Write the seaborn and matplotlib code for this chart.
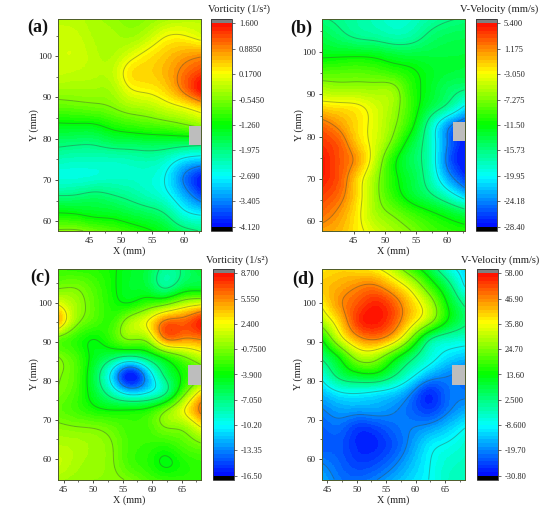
import numpy as np
import pandas as pd
import matplotlib
matplotlib.use("Agg")
import matplotlib.pyplot as plt
from matplotlib.colors import BoundaryNorm
from matplotlib.patches import Rectangle
from matplotlib.ticker import FixedLocator
import seaborn as sns

# Field samples, rows run from the top of each panel to the bottom.
vort_a = [
    [-0.15, -0.20, -0.30, -0.40, -0.50, -0.45, -0.30, -0.20, -0.15],
    [-0.10, -0.10, -0.25, -0.30, -0.35, -0.15, 0.17, 0.22, 0.05],
    [-0.05, -0.05, -0.20, -0.25, 0.00, 0.28, 0.50, 0.70, 0.80],
    [-0.10, -0.15, -0.20, -0.15, 0.33, 0.45, 0.62, 0.98, 1.30],
    [-0.35, -0.35, -0.35, -0.30, 0.12, 0.25, 0.45, 0.95, 1.58],
    [-0.75, -0.70, -0.65, -0.55, -0.35, -0.25, -0.05, 0.15, 0.45],
    [-1.33, -1.32, -1.30, -1.10, -0.95, -0.85, -0.75, -0.60, -0.40],
    [-1.85, -1.90, -1.90, -1.75, -1.70, -1.65, -1.65, -1.70, -1.75],
    [-2.30, -2.35, -2.35, -2.35, -2.30, -2.25, -2.40, -2.80, -3.00],
    [-2.50, -2.50, -2.45, -2.40, -2.40, -2.45, -2.70, -3.40, -4.00],
    [-1.98, -1.95, -1.85, -1.95, -2.10, -2.30, -2.55, -3.10, -3.70],
    [-1.25, -1.30, -1.40, -1.45, -1.60, -1.75, -2.00, -2.55, -2.80],
    [-0.50, -0.50, -0.65, -0.80, -1.00, -1.20, -1.45, -1.80, -2.00],
]
vvel_b = [
    [-15.5, -16.2, -17.0, -17.8, -18.5, -18.2, -17.0, -16.0, -15.5],
    [-13.8, -15.0, -16.0, -16.5, -17.2, -16.8, -15.2, -14.3, -14.0],
    [-12.0, -12.0, -12.0, -12.3, -13.2, -13.5, -13.5, -13.4, -13.3],
    [-8.9, -8.7, -8.6, -9.0, -9.8, -11.0, -12.4, -13.2, -13.5],
    [-5.5, -6.0, -6.0, -6.1, -6.5, -10.0, -12.5, -14.5, -15.7],
    [-1.6, -2.0, -2.6, -4.2, -6.2, -9.8, -13.5, -16.5, -20.5],
    [2.2, 0.4, -1.9, -4.0, -6.8, -10.7, -16.8, -23.0, -26.0],
    [4.0, 2.4, -1.2, -4.2, -8.2, -13.0, -17.5, -24.0, -28.0],
    [5.1, 2.9, 0.2, -5.0, -10.7, -14.2, -17.5, -24.5, -28.4],
    [4.8, 2.7, -1.6, -6.3, -10.7, -13.5, -17.0, -22.5, -26.5],
    [3.6, 1.9, -2.0, -6.5, -10.0, -12.7, -15.0, -18.0, -21.5],
    [2.2, 0.5, -2.5, -5.9, -7.7, -9.5, -11.0, -12.5, -14.2],
    [0.3, -0.5, -2.4, -4.3, -5.9, -7.3, -9.0, -10.0, -10.5],
]
vort_c = [
    [-2.6, -2.8, -3.0, -3.6, -4.7, -5.5, -7.6, -6.8, -5.0],
    [-1.0, -0.9, -2.0, -3.5, -4.8, -5.3, -7.3, -5.5, -5.0],
    [2.3, 0.2, -1.6, -3.2, -3.6, -2.2, -1.0, 1.0, 2.2],
    [4.5, -0.2, -2.0, -2.5, 0.3, 2.4, 6.0, 6.5, 8.3],
    [-1.5, -2.8, -3.9, -2.5, -0.7, 0.0, 5.2, 5.3, 5.6],
    [-0.75, -2.2, -4.5, -6.2, -7.5, -6.0, -3.2, -1.0, 1.0],
    [-0.6, -1.9, -5.5, -10.8, -16.0, -12.0, -6.5, -3.5, -1.5],
    [-0.9, -2.2, -5.0, -8.5, -11.5, -10.5, -7.5, -2.0, 3.0],
    [-1.5, -2.3, -3.4, -4.0, -4.0, -3.5, -1.2, 2.0, 6.0],
    [-0.4, -0.7, -0.9, -1.5, -2.4, -2.2, -0.75, -0.2, 2.4],
    [0.6, 0.4, 0.0, -0.7, -2.2, -2.6, -2.8, -1.9, -1.0],
    [1.2, 0.4, -0.1, -0.6, -2.2, -3.0, -4.1, -3.2, -2.6],
    [0.3, -0.1, -0.3, -0.4, -1.0, -2.0, -2.6, -2.8, -2.9],
]
vvel_d = [
    [38, 40, 39, 37, 30, 19, 8.5, -4, -12],
    [41, 44, 47, 48, 42, 33, 20, 7, -8.5],
    [37, 46, 52, 56, 51, 41, 30, 14, 1.5],
    [29, 41, 54, 57, 51, 39, 27, 13, 4],
    [14, 32, 44, 47, 40, 23, 3.5, -3, -5],
    [4, 15, 28, 28, 17, 5, -5, -11, -14],
    [-5.5, 6, 11.5, 12, 4, -6, -15, -19, -21],
    [-14, -8.6, -7.5, -9, -12, -19, -27, -22, -21],
    [-20, -17, -17, -17, -19, -22.5, -26, -21, -16.5],
    [-23, -22, -26, -25, -22, -20, -18, -14, -9],
    [-24, -24, -28, -28, -24, -18, -11, -8, -5],
    [-20, -23, -26, -25, -21, -15, -9, -5, -3.5],
    [-16, -21, -22, -20, -16, -12, -8.5, -4, -3],
]

# Colour bar tick labels, bottom to top.
ticks_a = ["-4.120", "-3.405", "-2.690", "-1.975", "-1.260", "-0.5450", "0.1700", "0.8850", "1.600"]
ticks_b = ["-28.40", "-24.18", "-19.95", "-15.73", "-11.50", "-7.275", "-3.050", "1.175", "5.400"]
ticks_c = ["-16.50", "-13.35", "-10.20", "-7.050", "-3.900", "-0.7500", "2.400", "5.550", "8.700"]
ticks_d = ["-30.80", "-19.70", "-8.600", "2.500", "13.60", "24.70", "35.80", "46.90", "58.00"]

PX_W, PX_H = 546, 511
FILL = 8 * 7

panels = [
    dict(tag="(a)", field=vort_a, ticks=ticks_a, title="Vorticity (1/s²)",
         xlim=(40.0, 62.75), ylim=(57.6, 109.05), xticks=[45, 50, 55, 60], yticks=[60, 70, 80, 90, 100],
         box=(60.9, 78.4, 83.2), main=(58, 19, 201, 231), bar=(211, 232), tag_xy=(27, 27), title_x=239, title_y=9),
    dict(tag="(b)", field=vvel_b, ticks=ticks_b, title="V-Velocity (mm/s)",
         xlim=(40.0, 62.8), ylim=(57.6, 107.9), xticks=[45, 50, 55, 60], yticks=[60, 70, 80, 90, 100],
         box=(60.9, 78.9, 83.5), main=(322.3, 19, 464.7, 231), bar=(476, 497), tag_xy=(290, 28), title_x=499, title_y=9),
    dict(tag="(c)", field=vort_c, ticks=ticks_c, title="Vorticity (1/s²)",
         xlim=(44.03, 68.27), ylim=(54.5, 108.7), xticks=[45, 50, 55, 60, 65], yticks=[60, 70, 80, 90, 100],
         box=(66.0, 78.9, 84.0), main=(58, 269, 201, 480), bar=(213, 234), tag_xy=(30, 277), title_x=237, title_y=260),
    dict(tag="(d)", field=vvel_d, ticks=ticks_d, title="V-Velocity (mm/s)",
         xlim=(44.1, 68.4), ylim=(54.5, 108.7), xticks=[45, 50, 55, 60, 65], yticks=[60, 70, 80, 90, 100],
         box=(66.2, 78.9, 84.0), main=(322, 269, 465, 480), bar=(477, 498), tag_xy=(292, 279), title_x=500, title_y=260),
]


def spline_axis(values, factor, axis):
    """Resample a field along one axis with a natural cubic spline."""
    arr = np.moveaxis(np.asarray(values, float), axis, 0)
    n = arr.shape[0]
    lhs = np.eye(n)
    for k in range(1, n - 1):
        lhs[k, k - 1:k + 2] = [1.0, 4.0, 1.0]
    rhs = np.zeros_like(arr)
    rhs[1:-1] = 6.0 * (arr[:-2] - 2.0 * arr[1:-1] + arr[2:])
    curv = np.linalg.solve(lhs, rhs)
    pos = np.linspace(0, n - 1, (n - 1) * factor + 1)
    i = np.clip(pos.astype(int), 0, n - 2)
    t = (pos - i).reshape((-1,) + (1,) * (arr.ndim - 1))
    out = ((1 - t) * arr[i] + t * arr[i + 1]
           + ((1 - t) ** 3 - (1 - t)) * curv[i] / 6.0
           + (t ** 3 - t) * curv[i + 1] / 6.0)
    return np.moveaxis(out, 0, axis)


def place(px_left, px_top, px_right, px_bottom):
    return [px_left / PX_W, 1 - px_bottom / PX_H, (px_right - px_left) / PX_W, (px_bottom - px_top) / PX_H]


sns.set_theme(style="ticks")
plt.rcParams["font.family"] = ["Liberation Serif", "DejaVu Serif"]
plt.rcParams["axes.unicode_minus"] = False
plt.rcParams["contour.negative_linestyle"] = "solid"

rainbow = sns.blend_palette(["#0000ff", "#00ffff", "#00ff00", "#ffff00", "#ff0000"], n_colors=256, as_cmap=True)
rainbow = rainbow.with_extremes(under="#000000", over="#808080")

fig = plt.figure(figsize=(PX_W / 100, PX_H / 100), dpi=100)

for p in panels:
    left, top, right, bottom = p["main"]
    ax = fig.add_axes(place(left, top, right, bottom))
    cax = fig.add_axes(place(p["bar"][0], top, p["bar"][1], bottom))

    tick_values = np.array([float(t) for t in p["ticks"]])
    levels = np.linspace(tick_values[0], tick_values[-1], FILL + 1)
    norm = BoundaryNorm(levels, ncolors=256, extend="both")

    # Spline overshoot stays inside the top and bottom colour bands.
    fine = spline_axis(spline_axis(p["field"], 24, 0), 24, 1)
    fine = np.clip(fine, levels[1], levels[-2])
    ny, nx = fine.shape
    frame = pd.DataFrame(fine)

    sns.heatmap(frame, ax=ax, cbar_ax=cax, cmap=rainbow, norm=norm, xticklabels=False, yticklabels=False,
                cbar_kws=dict(extendfrac=0.022, extendrect=True, ticks=tick_values))

    # Heatmap cells are indexed, so millimetres are converted to cell positions.
    x0, x1 = p["xlim"]
    y0, y1 = p["ylim"]
    to_col = lambda v: (np.asarray(v, float) - x0) / (x1 - x0) * nx
    to_row = lambda v: (y1 - np.asarray(v, float)) / (y1 - y0) * ny

    ax.contour(np.arange(nx) + 0.5, np.arange(ny) + 0.5, fine, levels=tick_values,
               colors="#3c4a3c", linewidths=0.7, alpha=0.4)

    box_x, box_low, box_high = p["box"]
    ax.add_patch(Rectangle((float(to_col(box_x)), float(to_row(box_high))),
                           float(to_col(x1) - to_col(box_x)), float(to_row(box_low) - to_row(box_high)),
                           facecolor="#bdbdbd", edgecolor="none", zorder=4))

    for side in ("left", "bottom", "right", "top"):
        ax.spines[side].set_visible(True)
        ax.spines[side].set_linewidth(0.7)
        ax.spines[side].set_color("#4d5a2a")
    ax.set_xticks(to_col(p["xticks"]), [str(v) for v in p["xticks"]])
    ax.set_yticks(to_row(p["yticks"]), [str(v) for v in p["yticks"]], rotation=0)
    ax.xaxis.set_minor_locator(FixedLocator(to_col(np.array(p["xticks"]) + 2.5)))
    ax.yaxis.set_minor_locator(FixedLocator(to_row(np.array(p["yticks"]) + 5)))
    ax.tick_params(which="major", length=2.5, width=0.6, labelsize=6.6, pad=2, color="#333333", labelcolor="#222222",
                   bottom=True, left=True)
    ax.tick_params(which="minor", length=1.5, width=0.5, color="#333333", bottom=True, left=True)
    ax.set_xlabel("X (mm)", fontsize=7.3, labelpad=0.5, color="#222222")
    ax.set_ylabel("Y (mm)", fontsize=7.3, labelpad=-1, color="#222222")

    cb = ax.collections[0].colorbar
    cb.outline.set_linewidth(0.6)
    cb.outline.set_edgecolor("#333333")
    cb.set_ticks(tick_values, labels=p["ticks"])
    cb.minorticks_off()
    cb.ax.tick_params(length=2.5, width=0.5, labelsize=6, pad=2.5, color="#333333", labelcolor="#222222")

    fig.text(p["title_x"] / PX_W, 1 - p["title_y"] / PX_H, p["title"], ha="center", va="center",
             fontsize=7.6, color="#222222")
    fig.text(p["tag_xy"][0] / PX_W, 1 - p["tag_xy"][1] / PX_H, p["tag"], ha="left", va="center",
             fontsize=13, fontweight="bold", color="#111111")

fig.savefig("out.png", dpi=100)
